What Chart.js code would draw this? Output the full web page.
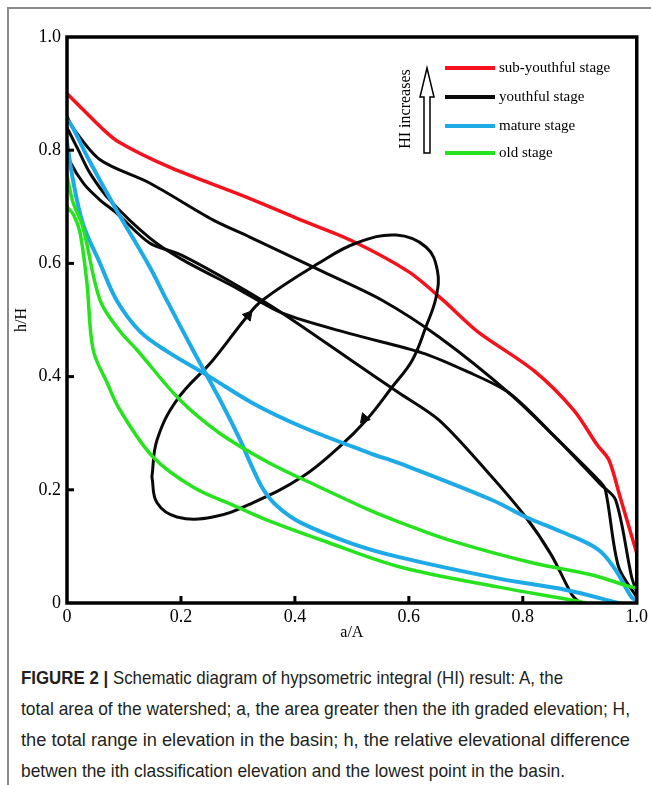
<!DOCTYPE html>
<html><head><meta charset="utf-8">
<script src="https://cdn.jsdelivr.net/npm/chart.js@4.4.1/dist/chart.umd.min.js"></script>
<style>
html,body{margin:0;padding:0;background:#fff;}
body{width:651px;height:785px;position:relative;overflow:hidden;}
#frame{position:absolute;left:7px;top:7px;width:700px;height:800px;border-left:2px solid #8a8a8a;border-top:2px solid #8a8a8a;}
#wrap{position:absolute;left:0;top:0;width:651px;height:650px;}
#cap{position:absolute;left:21px;top:662px;font-family:"Liberation Sans",Arial,sans-serif;font-size:19px;line-height:31px;color:#231f20;}
#cap div{white-space:nowrap;height:31px;}
#cap span{display:inline-block;transform-origin:0 50%;}
</style></head><body>
<div id="frame"></div>
<div id="wrap"><canvas id="c" width="651" height="650"></canvas></div>
<div id="cap">
<div><span data-w="542"><b>FIGURE 2 |</b> Schematic diagram of hypsometric integral (HI) result: A, the</span></div>
<div><span data-w="609">total area of the watershed; a, the area greater then the ith graded elevation; H,</span></div>
<div><span data-w="609">the total range in elevation in the basin; h, the relative elevational difference</span></div>
<div><span data-w="544">betwen the ith classification elevation and the lowest point in the basin.</span></div>
</div>
<script>
// ---- data ----
const tickValues = [0, 0.2, 0.4, 0.6, 0.8, 1.0];
const legendNames = ['sub-youthful stage', 'youthful stage', 'mature stage', 'old stage'];
const legendNote = 'HI increases';
const axisTitleX = 'a/A';
const axisTitleY = 'h/H';

const subYouthX = [0, 0.02, 0.06, 0.09, 0.18, 0.32, 0.41, 0.5, 0.6, 0.66, 0.72, 0.82, 0.89, 0.93, 0.951, 0.97, 0.99, 1.0];
const subYouthY = [0.90, 0.88, 0.84, 0.815, 0.77, 0.715, 0.677, 0.64, 0.585, 0.535, 0.48, 0.41, 0.34, 0.28, 0.253, 0.19, 0.122, 0.088];

const youthAX = [0, 0.01, 0.058, 0.145, 0.256, 0.32, 0.45, 0.553, 0.653, 0.776, 0.86, 0.936, 0.963, 0.991, 1.0];
const youthAY = [0.86, 0.84, 0.783, 0.742, 0.677, 0.647, 0.585, 0.535, 0.47, 0.371, 0.29, 0.21, 0.182, 0.046, 0.02];

const youthBX = [0, 0.005, 0.02, 0.04, 0.075, 0.145, 0.2, 0.3, 0.378, 0.5, 0.623, 0.7, 0.776, 0.86, 0.933, 0.945, 0.968, 1.0];
const youthBY = [0.84, 0.83, 0.80, 0.76, 0.712, 0.645, 0.608, 0.555, 0.512, 0.475, 0.442, 0.41, 0.371, 0.29, 0.217, 0.2, 0.064, 0.01];

const youthCX = [0, 0.005, 0.03, 0.058, 0.087, 0.145, 0.2, 0.3, 0.378, 0.5, 0.583, 0.653, 0.735, 0.805, 0.85, 0.886, 0.9];
const youthCY = [0.80, 0.78, 0.74, 0.712, 0.689, 0.636, 0.615, 0.56, 0.512, 0.428, 0.371, 0.323, 0.235, 0.152, 0.085, 0.015, 0];

const matureAX = [0, 0.01, 0.04, 0.087, 0.145, 0.175, 0.221, 0.268, 0.303, 0.325, 0.345, 0.37, 0.41, 0.5, 0.583, 0.758, 0.876, 0.968];
const matureAY = [0.855, 0.84, 0.78, 0.694, 0.594, 0.535, 0.447, 0.36, 0.29, 0.24, 0.2, 0.17, 0.142, 0.105, 0.081, 0.043, 0.023, 0.0];

const matureBX = [0, 0.01, 0.028, 0.058, 0.087, 0.128, 0.175, 0.25, 0.326, 0.413, 0.531, 0.583, 0.746, 0.805, 0.87, 0.933, 0.963, 0.991, 1.0];
const matureBY = [0.815, 0.75, 0.67, 0.60, 0.535, 0.48, 0.445, 0.40, 0.353, 0.311, 0.265, 0.247, 0.182, 0.152, 0.125, 0.094, 0.058, 0.01, 0.005];

const oldAX = [0, 0.01, 0.028, 0.058, 0.093, 0.123, 0.198, 0.268, 0.356, 0.443, 0.531, 0.583, 0.671, 0.816, 0.92, 0.991, 1.0];
const oldAY = [0.756, 0.71, 0.664, 0.535, 0.48, 0.447, 0.359, 0.30, 0.247, 0.205, 0.164, 0.143, 0.111, 0.071, 0.05, 0.028, 0.027];

const oldBX = [0, 0.012, 0.023, 0.035, 0.046, 0.07, 0.093, 0.151, 0.221, 0.298, 0.35, 0.45, 0.583, 0.758, 0.893, 0.91];
const oldBY = [0.70, 0.685, 0.654, 0.565, 0.447, 0.39, 0.341, 0.258, 0.205, 0.17, 0.147, 0.11, 0.064, 0.028, 0.004, 0];

const loopX = [0.149, 0.158, 0.193, 0.256, 0.315, 0.343, 0.443, 0.508, 0.578, 0.630, 0.650, 0.648, 0.630, 0.606, 0.571, 0.525, 0.478, 0.413, 0.326, 0.256, 0.193, 0.158, 0.149];
const loopY = [0.223, 0.288, 0.359, 0.429, 0.505, 0.535, 0.601, 0.636, 0.650, 0.629, 0.588, 0.541, 0.488, 0.429, 0.382, 0.323, 0.276, 0.223, 0.177, 0.152, 0.152, 0.177, 0.223];

const arrowX = [0.318, 0.522];
const arrowY = [0.508, 0.326];
const arrowAngle = [40, 221];

// ---- build ----
const RED = '#f5121c', BLACK = '#0a0a0a', BLUE = '#1eaae6', GREEN = '#26e21f';
const legendColors = [RED, BLACK, BLUE, GREEN];
const zip = (xs, ys) => xs.map((x, i) => ({x, y: ys[i]}));
const line = (label, xs, ys, color, w, t) => ({
  label, data: zip(xs, ys), showLine: true, borderColor: color, backgroundColor: color,
  borderWidth: w, pointRadius: 0, tension: t, fill: false, borderCapStyle: 'round', borderJoinStyle: 'round'
});

const datasets = [
  line('old stage', oldAX, oldAY, GREEN, 3.5, 0.35),
  line('old stage', oldBX, oldBY, GREEN, 3.5, 0.35),
  line('mature stage', matureAX, matureAY, BLUE, 4, 0.35),
  line('mature stage', matureBX, matureBY, BLUE, 4, 0.35),
  line('youthful stage', youthCX, youthCY, BLACK, 3, 0.3),
  line('youthful stage', youthBX, youthBY, BLACK, 3, 0.3),
  line('youthful stage', youthAX, youthAY, BLACK, 3, 0.3),
  line('HI cycle', loopX, loopY, BLACK, 3, 0.4),
  line('sub-youthful stage', subYouthX, subYouthY, RED, 3.5, 0.3),
  {
    label: 'direction', data: zip(arrowX, arrowY), showLine: false,
    pointStyle: 'triangle', pointRadius: 6, pointRotation: arrowAngle,
    backgroundColor: BLACK, borderColor: BLACK, borderWidth: 1
  }
];

const SERIF = '"Liberation Serif","Times New Roman",serif';

const framePlugin = {
  id: 'frameTicks',
  afterDatasetsDraw(chart) {
    const {ctx, chartArea: a, scales: {x, y}} = chart;
    ctx.save();
    ctx.strokeStyle = '#000';
    ctx.lineWidth = 3.5;
    ctx.lineCap = 'butt';
    ctx.strokeRect(a.left, a.top, a.right - a.left, a.bottom - a.top);
    ctx.lineWidth = 3;
    tickValues.forEach(v => {
      if (v <= 0 || v >= 1) return;
      const px = x.getPixelForValue(v);
      ctx.beginPath(); ctx.moveTo(px, a.bottom); ctx.lineTo(px, a.bottom - 7); ctx.stroke();
      const py = y.getPixelForValue(v);
      ctx.beginPath(); ctx.moveTo(a.left, py); ctx.lineTo(a.left + 7, py); ctx.stroke();
    });
    ctx.restore();
  },
  afterDraw(chart) {
    const {ctx, chartArea: a} = chart;
    ctx.save();
    const lx0 = a.left + 378, lx1 = a.left + 428, tx = a.left + 432;
    const rows = [31, 60, 89, 116].map(d => a.top + d);
    ctx.font = '15px ' + SERIF;
    ctx.textBaseline = 'middle';
    ctx.fillStyle = '#000';
    legendNames.forEach((n, i) => {
      ctx.strokeStyle = legendColors[i];
      ctx.lineWidth = 4;
      ctx.beginPath(); ctx.moveTo(lx0, rows[i]); ctx.lineTo(lx1, rows[i]); ctx.stroke();
      ctx.fillText(n, tx, rows[i]);
    });
    // rotated note
    ctx.save();
    ctx.translate(a.left + 339, a.top + 72);
    ctx.rotate(-Math.PI / 2);
    ctx.font = '16px ' + SERIF;
    ctx.textAlign = 'center';
    ctx.fillText(legendNote, 0, 0);
    ctx.restore();
    // hollow arrow
    const ax = a.left + 360, tip = a.top + 31, hb = a.top + 60, bot = a.top + 116;
    ctx.beginPath();
    ctx.moveTo(ax, tip);
    ctx.lineTo(ax + 7, hb);
    ctx.lineTo(ax + 3, hb);
    ctx.lineTo(ax + 3, bot);
    ctx.lineTo(ax - 3, bot);
    ctx.lineTo(ax - 3, hb);
    ctx.lineTo(ax - 7, hb);
    ctx.closePath();
    ctx.lineWidth = 1.5;
    ctx.strokeStyle = '#000';
    ctx.fillStyle = '#fff';
    ctx.fill(); ctx.stroke();
    ctx.restore();
  }
};

const fmt = v => (Math.abs(v) < 1e-9 ? '0' : v.toFixed(1));

new Chart(document.getElementById('c'), {
  type: 'scatter',
  data: {datasets},
  options: {
    responsive: false, animation: false, devicePixelRatio: 1,
    layout: {padding: {top: 37, right: 13, left: 0, bottom: 0}},
    plugins: {legend: {display: false}, tooltip: {enabled: false}},
    scales: {
      x: {
        type: 'linear', min: 0, max: 1,
        afterBuildTicks: s => { s.ticks = tickValues.map(v => ({value: v})); },
        afterFit: s => { s.height = 47; },
        grid: {display: false, drawTicks: false}, border: {display: false},
        ticks: {callback: fmt, font: {family: SERIF, size: 18}, color: '#000', padding: 3, maxRotation: 0},
        title: {display: true, text: axisTitleX, font: {family: SERIF, size: 16}, color: '#000', padding: {top: 0, bottom: 8}}
      },
      y: {
        type: 'linear', min: 0, max: 1,
        afterBuildTicks: s => { s.ticks = tickValues.map(v => ({value: v})); },
        afterFit: s => { s.width = 67; },
        grid: {display: false, drawTicks: false}, border: {display: false},
        ticks: {callback: fmt, font: {family: SERIF, size: 18}, color: '#000', padding: 6},
        title: {display: true, text: axisTitleY, font: {family: SERIF, size: 16}, color: '#000', padding: {top: 12, bottom: 0}}
      }
    }
  },
  plugins: [framePlugin]
});

// fit caption lines to their measured widths
document.querySelectorAll('#cap span').forEach(s => {
  const w = s.getBoundingClientRect().width;
  const t = parseFloat(s.dataset.w);
  s.style.transform = 'scaleX(' + (t / w).toFixed(4) + ')';
});
</script>
</body></html>
